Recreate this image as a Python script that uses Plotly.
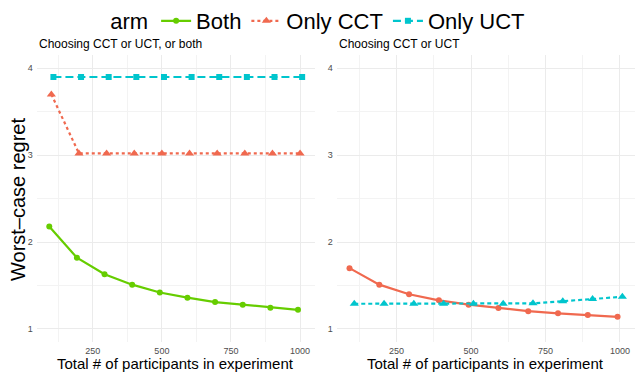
import plotly.graph_objects as go

# ---- data ----
n_participants = [100, 200, 300, 400, 500, 600, 700, 800, 900, 1000]
x_ticks = [250, 500, 750, 1000]
y_ticks = [1, 2, 3, 4]

left_both = [2.18, 1.82, 1.63, 1.51, 1.42, 1.36, 1.31, 1.28, 1.245, 1.22]
left_only_cct = [3.70, 3.02, 3.02, 3.02, 3.02, 3.02, 3.02, 3.02, 3.02, 3.02]
left_only_uct = [3.90, 3.90, 3.90, 3.90, 3.90, 3.90, 3.90, 3.90, 3.90, 3.90]

right_only_cct = [1.70, 1.51, 1.40, 1.33, 1.28, 1.24, 1.205, 1.18, 1.16, 1.14]
right_only_uct = [1.29, 1.29, 1.29, 1.29, 1.29, 1.29, 1.295, 1.32, 1.345, 1.37]

# dodge offsets (position_dodge in original)
left_dodge = {"Both": -7.5, "Only CCT": 0.0, "Only UCT": 7.5}
right_dodge = {"Only CCT": -8.0, "Only UCT": 8.0}

COL = {"Both": "#66CD00", "Only CCT": "#F0694F", "Only UCT": "#00C5CD"}
FONT = "Liberation Sans, Arial, sans-serif"

fig = go.Figure()

def add(x, y, name, xa, ya, dash, symbol, msize, showlegend):
    fig.add_trace(go.Scatter(
        x=x, y=y, name=name, mode="lines+markers", legendgroup=name,
        showlegend=showlegend, xaxis=xa, yaxis=ya,
        line=dict(color=COL[name], width=2.2, dash=dash),
        marker=dict(color=COL[name], symbol=symbol, size=msize),
    ))

def dodge(xs, off):
    return [v + off for v in xs]

add(dodge(n_participants, left_dodge["Both"]), left_both, "Both", "x", "y", "solid", "circle", 6, True)
add(dodge(n_participants, left_dodge["Only CCT"]), left_only_cct, "Only CCT", "x", "y", "3px,3px", "triangle-up", 8, True)
add(dodge(n_participants, left_dodge["Only UCT"]), left_only_uct, "Only UCT", "x", "y", "8px,4px", "square", 6, True)

add(dodge(n_participants, right_dodge["Only CCT"]), right_only_cct, "Only CCT", "x2", "y2", "solid", "circle", 6, False)
add(dodge(n_participants, right_dodge["Only UCT"]), right_only_uct, "Only UCT", "x2", "y2", "4px,3px", "triangle-up", 8, False)

W, H = 641, 378
tickfont = dict(family=FONT, size=9, color="#4D4D4D")
grid = "#EBEBEB"

def xaxis(domain, rng, anchor):
    return dict(domain=domain, range=rng, anchor=anchor, tickvals=x_ticks,
                ticktext=[str(t) for t in x_ticks], tickfont=tickfont,
                showgrid=True, gridcolor=grid, gridwidth=1, zeroline=False,
                showline=False, ticks="", ticklabelstandoff=2,
                minor=dict(tickvals=[125, 375, 625, 875], showgrid=True,
                           gridcolor="#F3F3F3", gridwidth=0.6))

def yaxis(domain, anchor):
    return dict(domain=domain, range=[0.85, 4.15], anchor=anchor, tickvals=y_ticks,
                ticktext=[str(t) for t in y_ticks], tickfont=tickfont,
                showgrid=True, gridcolor=grid, gridwidth=1, zeroline=False,
                showline=False, ticks="", ticklabelstandoff=3,
                minor=dict(tickvals=[1.5, 2.5, 3.5], showgrid=True,
                           gridcolor="#F3F3F3", gridwidth=0.6))

ydom = [1 - 342 / H, 1 - 55.3 / H]
fig.update_layout(
    width=W, height=H,
    margin=dict(l=0, r=0, t=0, b=0),
    paper_bgcolor="white", plot_bgcolor="white",
    font=dict(family=FONT, color="black"),
    xaxis=xaxis([36.7 / W, 315 / W], [47, 1054], "y"),
    yaxis=yaxis(ydom, "x"),
    xaxis2=xaxis([336.7 / W, 635 / W], [49, 1050.5], "y2"),
    yaxis2=yaxis(ydom, "x2"),
    legend=dict(orientation="h", x=0.498, xanchor="center", y=1.0, yanchor="top",
                font=dict(family=FONT, size=22, color="black"),
                title=dict(text="arm", side="left", font=dict(family=FONT, size=22)),
                itemwidth=30, tracegroupgap=0, bgcolor="rgba(0,0,0,0)"),
    hovermode=False,
)

ann = [
    dict(text="Choosing CCT or UCT, or both", x=37 / W, y=1 - 44 / H, xanchor="left",
         yanchor="middle", font=dict(size=12)),
    dict(text="Choosing CCT or UCT", x=337 / W, y=1 - 44 / H, xanchor="left",
         yanchor="middle", font=dict(size=12)),
    dict(text="Total # of participants in experiment", x=(36.7 + 315) / 2 / W,
         y=1 - 363 / H, xanchor="center", yanchor="middle", font=dict(size=15)),
    dict(text="Total # of participants in experiment", x=(336.7 + 635) / 2 / W,
         y=1 - 363 / H, xanchor="center", yanchor="middle", font=dict(size=15)),
    dict(text="Worst\u2013case regret", x=18 / W, y=1 - 200 / H, textangle=-90,
         xanchor="center", yanchor="middle", font=dict(size=20)),
]
for a in ann:
    a.update(xref="paper", yref="paper", showarrow=False)
    a["font"].update(family=FONT, color="black")
fig.update_layout(annotations=ann)

fig.write_html("out.html", config={"displayModeBar": False},
               post_script="document.body.style.margin='0px';document.body.style.overflow='hidden';")
